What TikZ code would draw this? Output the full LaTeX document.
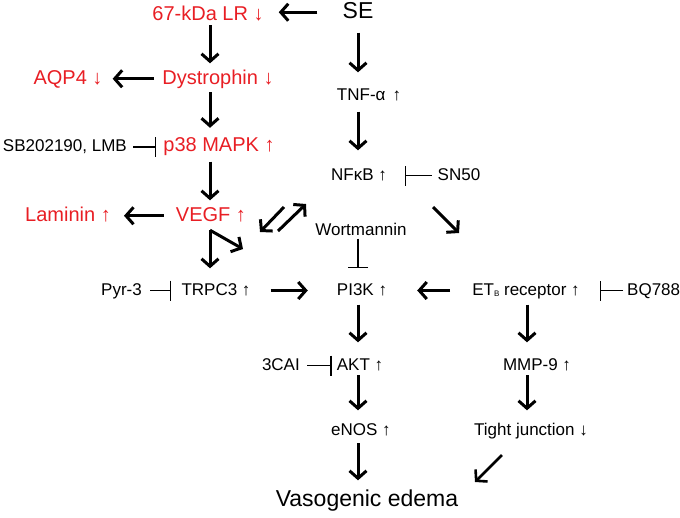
\documentclass[tikz,border=0pt]{standalone}
\usepackage{fontspec}
\setmainfont{Liberation Sans}
\usetikzlibrary{arrows.meta}
\definecolor{sered}{RGB}{232,30,36}

\tikzset{
  lbl/.style={anchor=base, inner sep=0pt, text height=12.5pt, text depth=3.5pt,
    font=\fontsize{17}{17}\selectfont},
  rlbl/.style={lbl, text=sered, text height=14.5pt, text depth=4pt,
    font=\fontsize{20}{20}\selectfont},
  big/.style={lbl, text height=16pt, text depth=4.5pt,
    font=\fontsize{23}{23}\selectfont},
  arr/.style={line width=3pt, -{Straight Barb[length=7.5pt,width=17pt]}},
  inh/.style={line width=1.3pt, -{Bar[width=20pt]}},
}

\begin{document}
\begin{tikzpicture}[x=1pt,y=-1pt]
    \useasboundingbox (0,0) rectangle (680,517);

    % 三列箭头的位置
    \coordinate (colL) at (210,0);
    \coordinate (colM) at (358,0);
    \coordinate (colR) at (527,0);

    % 左列（红色）
    \node[big] (se) at (358,18) {SE};
    \node[rlbl] (lr) at (208,20) {67-kDa LR ↓};
    \node[rlbl] (dys) at (218,84) {Dystrophin ↓};
    \node[rlbl] (aqp) at (68,84) {AQP4 ↓};
    \node[rlbl] (p38) at (219,151.5) {p38 MAPK ↑};
    \node[lbl, anchor=base east] (sb) at (127,151.5) {SB202190, LMB};
    \node[rlbl] (vegf) at (211,221) {VEGF ↑};
    \node[rlbl] (lam) at (68,221) {Laminin ↑};

    % 中列
    \node[lbl] (tnf) at (369,100) {TNF-α\hspace{7pt}↑};
    \node[lbl] (nfkb) at (359,180) {NFκB ↑};
    \node[lbl] (sn) at (459,180) {SN50};
    \node[lbl] (wort) at (361,235) {Wortmannin};
    \node[lbl] (trpc) at (216,295) {TRPC3 ↑};
    \node[lbl, anchor=base east] (pyr) at (142,295) {Pyr-3};
    \node[lbl] (pik) at (362,295) {PI3K ↑};
    \node[lbl] (akt) at (360,370) {AKT ↑};
    \node[lbl, anchor=base east] (cai) at (300,370) {3CAI};
    \node[lbl] (enos) at (361,435) {eNOS ↑};
    \node[big] (edema) at (367,506.5) {Vasogenic edema};

    % 右列
    \node[lbl] (etb) at (526,295) {ET\raisebox{-1.5pt}{\fontsize{8}{8}\selectfont B} receptor ↑};
    \node[lbl, anchor=base west] (bq) at (627,295) {BQ788};
    \node[lbl] (mmp) at (537,370) {MMP-9 ↑};
    \node[lbl] (tj) at (531,435) {Tight junction ↓};

    % 悬空箭头的端点
    \coordinate (vfork) at ([yshift=-5pt]vegf.south -| colL);
    \coordinate (vdiag) at (243,249);
    \coordinate (dA1) at (284,207);
    \coordinate (dA2) at (260,232);
    \coordinate (dB1) at (278,231);
    \coordinate (dB2) at (306,204);
    \coordinate (nfo) at (433,207);
    \coordinate (eti) at (459,233);
    \coordinate (tjo) at (502,455);
    \coordinate (edi) at (475,482);

    % 左列箭头
    \draw[arr, shorten <=25pt, shorten >=15pt] (se.west) -- (se.west -| lr.east);
    \draw[arr, shorten <=1pt, shorten >=6pt] (lr.south -| colL) -- (dys.north -| colL);
    \draw[arr, shorten <=8pt, shorten >=10pt] (dys.west) -- (aqp.east);
    \draw[arr, shorten <=4pt, shorten >=9pt] (dys.south -| colL) -- (p38.north -| colL);
    \draw[inh, shorten <=6pt, shorten >=7pt] (sb.east) -- (sb.east -| p38.west);
    \draw[arr, shorten <=6pt, shorten >=6pt] (p38.south -| colL) -- (vegf.north -| colL);
    \draw[arr, shorten <=12pt, shorten >=13pt] (vegf.west) -- (lam.east);
    \draw[arr, shorten >=14pt] (vfork) -- (trpc.north -| colL);
    \draw[arr] (vfork) -- (vdiag);
    \draw[arr] (dA1) -- (dA2);
    \draw[arr] (dB1) -- (dB2);
    \draw[inh, shorten <=8pt, shorten >=10pt] (pyr.east) -- (pyr.east -| trpc.west);

    % 中列箭头
    \draw[arr, shorten <=10pt, shorten >=15pt] (se.south -| colM) -- (tnf.north -| colM);
    \draw[arr, shorten <=8pt, shorten >=17pt] (tnf.south -| colM) -- (nfkb.north -| colM);
    \draw[inh, shorten <=6pt, shorten >=18pt] (sn.west) -- (nfkb.east);
    \draw[arr] (nfo) -- (eti);
    \draw[inh, shorten >=14pt] (wort.south -| colM) -- (pik.north -| colM);
    \draw[arr, shorten <=20pt, shorten >=29pt] (trpc.east) -- (pik.west);
    \draw[arr, shorten <=22pt, shorten >=30pt] (etb.west) -- (pik.east);
    \draw[inh, shorten <=4pt, shorten >=20pt] (bq.west) -- (etb.east);
    \draw[arr, shorten <=6pt, shorten >=15pt] (pik.south -| colM) -- (akt.north -| colM);
    \draw[inh, shorten <=7pt, shorten >=5pt] (cai.east) -- (akt.west);
    \draw[arr, shorten <=1.5pt, shorten >=12pt] (akt.south -| colM) -- (enos.north -| colM);
    \draw[arr, shorten <=4.5pt, shorten >=10pt] (enos.south -| colM) -- (edema.north -| colM);

    % 右列箭头
    \draw[arr, shorten <=6pt, shorten >=15pt] (etb.south -| colR) -- (mmp.north -| colR);
    \draw[arr, shorten <=1.5pt, shorten >=12pt] (mmp.south -| colR) -- (tj.north -| colR);
    \draw[arr, line width=2.6pt] (tjo) -- (edi);
\end{tikzpicture}
\end{document}
